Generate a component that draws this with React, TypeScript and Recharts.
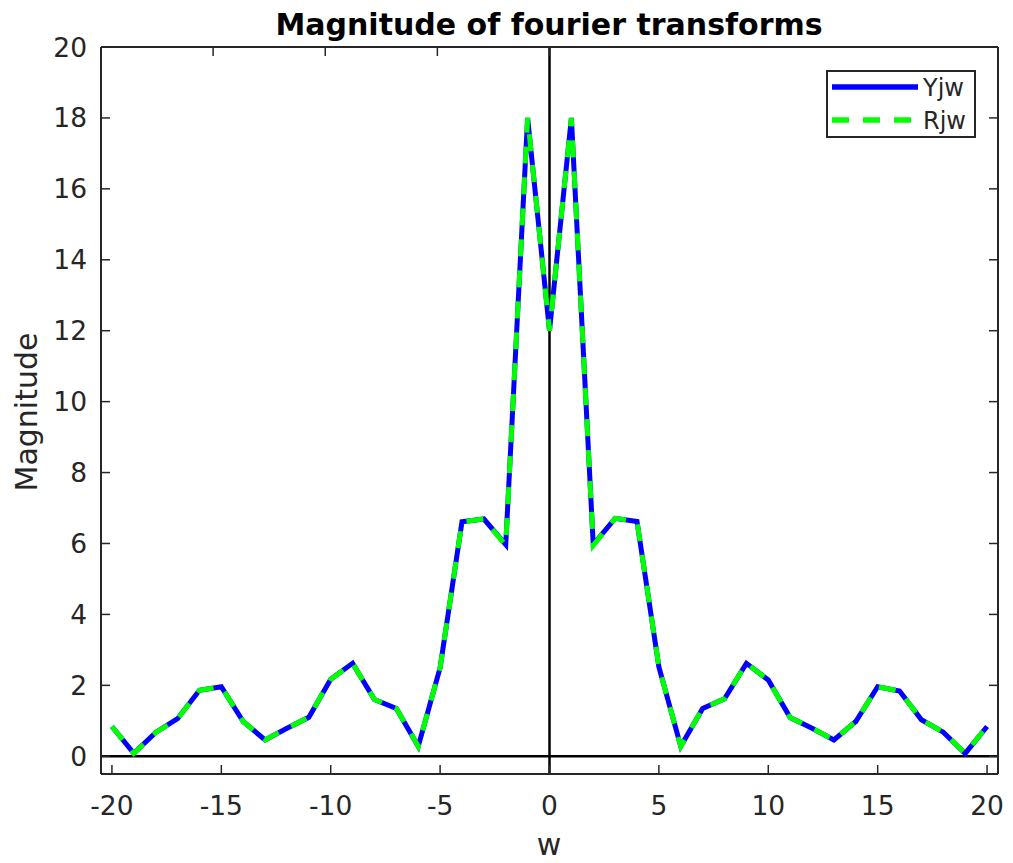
import React from "react";
import { LineChart, Line, XAxis, YAxis, ReferenceLine } from "recharts";

// w samples
const w = [-20, -19, -18, -17, -16, -15, -14, -13, -12, -11, -10, -9, -8, -7, -6, -5, -4, -3, -2, -1, 0,
  1, 2, 3, 4, 5, 6, 7, 8, 9, 10, 11, 12, 13, 14, 15, 16, 17, 18, 19, 20];

// |Y(jw)|
const yjw = [0.84, 0.08, 0.67, 1.06, 1.86, 1.96, 0.98, 0.46, 0.79, 1.1, 2.17, 2.62, 1.6, 1.35, 0.28, 2.5, 6.61, 6.69, 5.97, 18.0, 12.0,
  18.0, 5.97, 6.71, 6.62, 2.52, 0.28, 1.35, 1.62, 2.62, 2.15, 1.09, 0.79, 0.46, 0.98, 1.96, 1.84, 1.03, 0.68, 0.08, 0.84];

// |R(jw)|
const rjw = [0.84, 0.08, 0.67, 1.06, 1.86, 1.96, 0.98, 0.46, 0.79, 1.1, 2.17, 2.62, 1.6, 1.35, 0.28, 2.5, 6.61, 6.69, 5.95, 18.0, 12.0,
  18.0, 5.95, 6.71, 6.62, 2.52, 0.28, 1.35, 1.62, 2.62, 2.15, 1.09, 0.79, 0.46, 0.98, 1.96, 1.84, 1.03, 0.68, 0.08, 0.84];

const xTicks = [-20, -15, -10, -5, 0, 5, 10, 15, 20];
const yTicks = [0, 2, 4, 6, 8, 10, 12, 14, 16, 18, 20];

const series = [
  { key: "Yjw", color: "#0000ff", dash: undefined as string | undefined },
  { key: "Rjw", color: "#00ff00", dash: "17 14" },
];

const data = w.map((v, i) => ({ w: v, Yjw: yjw[i], Rjw: rjw[i] }));

const FONT = "DejaVu Sans";
const AX = "#262626";

const BottomTick = ({ x, y, payload }: any) => (
  <g>
    <line x1={x} y1={y} x2={x} y2={y - 9} stroke={AX} strokeWidth={1.5} />
    <text x={x} y={y + 41} textAnchor="middle" fill={AX} fontSize={26.5} fontFamily={FONT}>
      {payload.value}
    </text>
  </g>
);
const TopTick = ({ x, y }: any) => (
  <line x1={x} y1={y} x2={x} y2={y + 9} stroke={AX} strokeWidth={1.5} />
);
const LeftTick = ({ x, y, payload }: any) => (
  <g>
    <line x1={x} y1={y} x2={x + 9} y2={y} stroke={AX} strokeWidth={1.5} />
    <text x={x - 14} y={y} dy="0.36em" textAnchor="end" fill={AX} fontSize={26.5} fontFamily={FONT}>
      {payload.value}
    </text>
  </g>
);
const RightTick = ({ x, y }: any) => (
  <line x1={x} y1={y} x2={x - 9} y2={y} stroke={AX} strokeWidth={1.5} />
);

const LegendBox = () => (
  <div style={{ position: "absolute", left: 826, top: 70, width: 150, height: 68, boxSizing: "border-box", border: `2px solid ${AX}`, background: "#fff" }}>
    <svg width={146} height={64} style={{ display: "block" }}>
      {series.map((s, i) => (
        <g key={s.key}>
          <line x1={4} x2={90} y1={15 + i * 33} y2={15 + i * 33} stroke={s.color} strokeWidth={5.5} strokeDasharray={s.dash} />
          <text x={95} y={15 + i * 33} dy="0.36em" fontSize={24} fontFamily={FONT} fill={AX}>{s.key}</text>
        </g>
      ))}
    </svg>
  </div>
);

export default function App() {
  return (
    <div style={{ position: "absolute", left: 0, top: 0, width: 1013, height: 863, background: "#fff", fontFamily: FONT }}>
      <LineChart width={1013} height={863} data={data} margin={{ top: 46, right: 14, bottom: 49, left: 41 }}>
        <XAxis dataKey="w" type="number" domain={[-20.5, 20.5]} ticks={xTicks} allowDataOverflow
          height={40} tickSize={0} tickMargin={0} tickLine={false} tick={<BottomTick />}
          axisLine={{ stroke: AX, strokeWidth: 2 }} />
        <XAxis xAxisId="top" orientation="top" type="number" domain={[-20.5, 20.5]} ticks={xTicks} allowDataOverflow
          height={1} tickSize={0} tickMargin={0} tickLine={false} tick={<TopTick />}
          axisLine={{ stroke: AX, strokeWidth: 2 }} />
        <YAxis type="number" domain={[-0.5, 20]} ticks={yTicks} allowDataOverflow
          width={60} tickSize={0} tickMargin={0} tickLine={false} tick={<LeftTick />}
          axisLine={{ stroke: AX, strokeWidth: 2 }} />
        <YAxis yAxisId="right" orientation="right" type="number" domain={[-0.5, 20]} ticks={yTicks} allowDataOverflow
          width={1} tickSize={0} tickMargin={0} tickLine={false} tick={<RightTick />}
          axisLine={{ stroke: AX, strokeWidth: 2 }} />
        <ReferenceLine y={0} stroke="#000" strokeWidth={2.5} />
        <ReferenceLine x={0} stroke="#000" strokeWidth={2.5} />
        {series.map((s) => (
          <Line key={s.key} dataKey={s.key} type="linear" stroke={s.color} strokeWidth={5}
            strokeDasharray={s.dash} dot={false} activeDot={false} isAnimationActive={false} />
        ))}
      </LineChart>
      <div style={{ position: "absolute", left: 101, top: 10, width: 896, textAlign: "center", fontSize: 30, lineHeight: "30px", fontWeight: "bold", color: "#000", whiteSpace: "nowrap" }}>
        Magnitude of fourier transforms
      </div>
      <div style={{ position: "absolute", left: 26.5, top: 412, transform: "translate(-50%, -50%) rotate(-90deg)", fontSize: 30, lineHeight: "30px", color: AX, whiteSpace: "nowrap" }}>
        Magnitude
      </div>
      <div style={{ position: "absolute", left: 101, top: 830, width: 896, textAlign: "center", fontSize: 30, lineHeight: "30px", color: AX }}>
        w
      </div>
      <LegendBox />
    </div>
  );
}
